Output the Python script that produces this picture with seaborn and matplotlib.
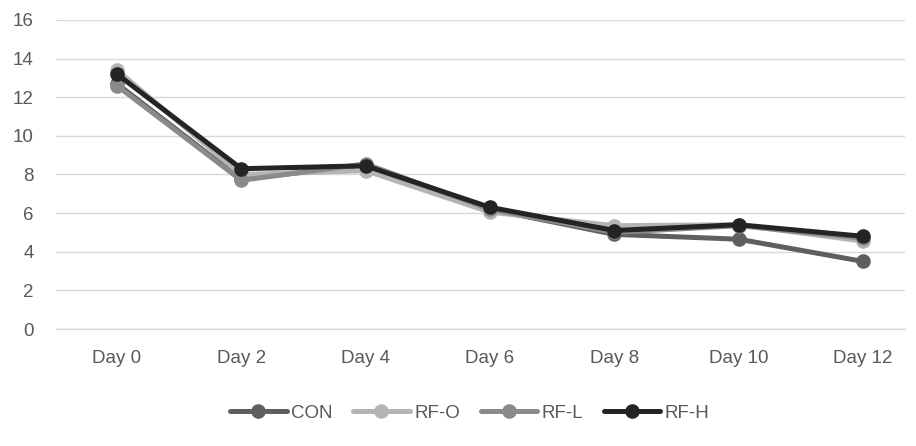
import matplotlib
matplotlib.use("Agg")
import matplotlib.pyplot as plt
import seaborn as sns
import pandas as pd

# Measured values per sampling day
days = ["Day 0", "Day 2", "Day 4", "Day 6", "Day 8", "Day 10", "Day 12"]
con = [12.7, 7.75, 8.5, 6.2, 4.9, 4.65, 3.5]
rf_o = [13.4, 8.0, 8.2, 6.05, 5.35, 5.4, 4.55]
rf_l = [12.6, 7.7, 8.55, 6.2, 5.0, 5.35, 4.7]
rf_h = [13.2, 8.3, 8.45, 6.3, 5.1, 5.4, 4.8]
groups = ["CON", "RF-O", "RF-L", "RF-H"]
yticks = [0, 2, 4, 6, 8, 10, 12, 14, 16]

colors = {"CON": "#5f5f5f", "RF-O": "#b4b4b4", "RF-L": "#8a8a8a", "RF-H": "#242424"}
text_color = "#595959"
grid_color = "#d9d9d9"

rows = []
for name, vals in zip(groups, [con, rf_o, rf_l, rf_h]):
    for d, v in zip(days, vals):
        rows.append({"day": d, "value": v, "group": name})
df = pd.DataFrame(rows)

sns.set_style("white")
plt.rcParams["font.family"] = ["Liberation Sans", "DejaVu Sans"]

fig = plt.figure(figsize=(9.16, 4.46), dpi=100)
ax = fig.add_axes([0.0611, 0.2623, 0.927, 0.6929])

sns.lineplot(data=df, x="day", y="value", hue="group", hue_order=groups,
             palette=colors, marker="o", markersize=10.5, markeredgewidth=0,
             linewidth=3.6, ax=ax, legend=False, sort=False)

ax.set_ylim(0, 16)
ax.set_xlim(-0.49, 6.338)
ax.set_yticks(yticks)
ax.set_xticks(range(len(days)))
ax.set_xticklabels(days)
ax.set_xlabel("")
ax.set_ylabel("")

ax.grid(axis="y", color=grid_color, linewidth=1.0)
ax.set_axisbelow(True)
for s in ["top", "right", "left"]:
    ax.spines[s].set_visible(False)
ax.spines["bottom"].set_color(grid_color)
ax.spines["bottom"].set_linewidth(1.0)

ax.tick_params(axis="both", length=0, labelsize=13.5, colors=text_color)
ax.tick_params(axis="y", pad=16)
ax.tick_params(axis="x", pad=15)

handles = [plt.Line2D([], [], color=colors[g], linewidth=3.6, marker="o",
                      markersize=10.5, markeredgewidth=0) for g in groups]
leg = fig.legend(handles, groups, loc="center", bbox_to_anchor=(0.513, 0.074),
                 ncol=4, frameon=False, handlelength=3.0, handletextpad=0.25,
                 columnspacing=1.1, fontsize=13.5)
for t in leg.get_texts():
    t.set_color(text_color)

fig.savefig("out.png", dpi=100)
